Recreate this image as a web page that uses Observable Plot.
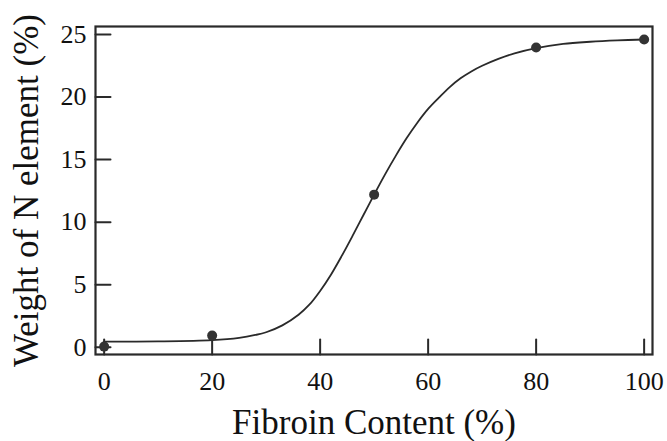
<!DOCTYPE html>
<html>
<head>
<meta charset="utf-8">
<script src="https://cdn.jsdelivr.net/npm/d3@7"></script>
<script src="https://cdn.jsdelivr.net/npm/@observablehq/plot@0.6"></script>
<style>
  html, body { margin: 0; padding: 0; background: #fff; }
  #chart { width: 667px; height: 441px; }
</style>
</head>
<body>
<div id="chart"></div>
<script>
// Measured data points
const fibroin = [0, 20, 50, 80, 100];
const nWeight = [0.05, 0.93, 12.2, 23.96, 24.6];

// Fitted curve
const curveX = [0, 10, 20, 25, 28, 30, 33, 36, 38, 40, 42, 44, 46, 48, 50, 52, 54, 56, 58, 60, 62, 64, 66, 68, 70, 73, 76, 80, 85, 90, 95, 100];
const curveY = [0.45, 0.47, 0.57, 0.75, 0.98, 1.2, 1.75, 2.6, 3.4, 4.5, 5.8, 7.3, 8.9, 10.55, 12.2, 13.8, 15.3, 16.7, 17.95, 19.05, 19.95, 20.8, 21.5, 22.05, 22.5, 23.05, 23.5, 23.92, 24.25, 24.42, 24.53, 24.6];

const xTicks = [0, 20, 40, 60, 80, 100];
const yTicks = [0, 5, 10, 15, 20, 25];

const xTitle = "Fibroin Content (%)";
const yTitle = "Weight of N element (%)";

const points = fibroin.map((x, i) => ({x, y: nWeight[i]}));
const curve = curveX.map((x, i) => ({x, y: curveY[i]}));

const ink = "#2a2a2a";
const xDom = [-1.6, 101.55];
const yDom = [-0.58, 25.64];

const lineShape = {
  draw(context, l) {
    context.moveTo(0, 0);
    context.lineTo(0, -l);
  }
};

const chart = Plot.plot({
  width: 667,
  height: 441,
  marginLeft: 95,
  marginRight: 15,
  marginTop: 26,
  marginBottom: 87,
  style: {fontFamily: "'Liberation Serif', 'Times New Roman', serif", color: "#111", background: "#fff"},
  x: {domain: xDom},
  y: {domain: yDom},
  marks: [
    Plot.axisX(xTicks, {tickSize: 0, tickPadding: 17, fontSize: 26, label: null, fill: "#111"}),
    Plot.axisY(yTicks, {tickSize: 0, tickPadding: 9, fontSize: 26, label: null, fill: "#111"}),
    Plot.vector(xTicks, {x: d => d, y: yDom[0], length: 15, rotate: 0, anchor: "start", shape: lineShape, stroke: ink, strokeWidth: 2}),
    Plot.vector(yTicks, {x: xDom[0], y: d => d, length: 15, rotate: 90, anchor: "start", shape: lineShape, stroke: ink, strokeWidth: 2}),
    Plot.frame({stroke: ink, strokeWidth: 2.2}),
    Plot.line(curve, {x: "x", y: "y", curve: "catmull-rom", stroke: ink, strokeWidth: 1.8}),
    Plot.dot(points, {x: "x", y: "y", r: 5, fill: "#333", stroke: "none"}),
    Plot.text([xTitle], {frameAnchor: "bottom", dy: 68, lineAnchor: "middle", textAnchor: "middle", fontSize: 35, fill: "#111"}),
    Plot.text([yTitle], {frameAnchor: "left", dx: -69, rotate: -90, lineAnchor: "middle", textAnchor: "middle", fontSize: 35, fill: "#111"})
  ]
});
document.getElementById("chart").appendChild(chart);
</script>
</body>
</html>
